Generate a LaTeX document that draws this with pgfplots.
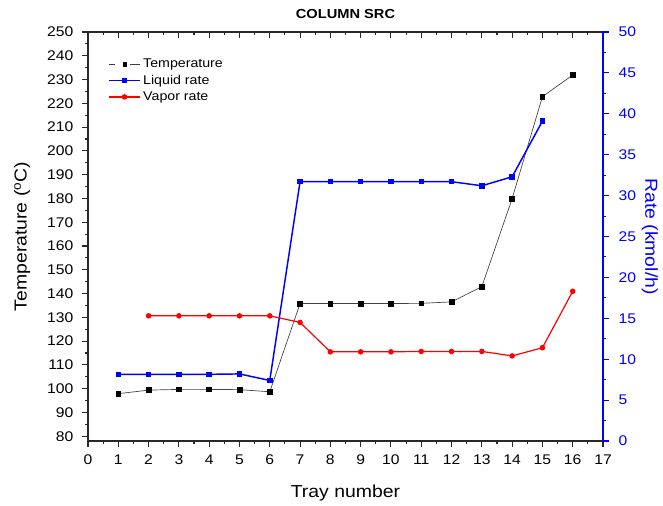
\documentclass[border=0pt]{standalone}
\usepackage{fontspec}
\setmainfont{Liberation Sans}[FakeStretch=1.12]
\usepackage{pgfplots}
\pgfplotsset{compat=1.18}
\definecolor{axgray}{RGB}{40,40,40}
\begin{document}
\begin{tikzpicture}
\pgfplotsset{
  common/.style={
    scale only axis, width=386.25pt, height=306.75pt,
    xmin=0, xmax=17,
    xtick={0,...,17}, minor x tick num=1,
    major tick length=4.5pt, minor tick length=2.6pt,
    every tick/.style={axgray, line width=0.8pt},
    /pgf/number format/assume math mode=true,
    tick label style={font=\fontsize{10.5}{12}\selectfont},
    label style={font=\fontsize{13}{15}\selectfont},
    axis line style={axgray, line width=1.1pt},
  },
  tstyle/.style={color=black!75, line width=0.5pt, mark=square*, mark size=1.8pt, mark options={fill=black, draw=black, solid}},
  lstyle/.style={color=blue, line width=1.1pt, mark=square*, mark size=1.5pt, mark options={fill=blue, draw=blue, solid}},
  vstyle/.style={color=red, line width=0.9pt, mark=*, mark size=1.6pt, mark options={fill=red, draw=red, solid}},
}
\begin{axis}[common, name=main,
  ymin=78, ymax=250, ytick={80,90,...,250}, minor y tick num=1,
  tick align=outside, xtick pos=left, ytick pos=left,
  xticklabel style={yshift=-2.6pt},
  yticklabel style={xshift=-3pt},
  xlabel={Tray number}, ylabel={Temperature (\textsuperscript{o}C)},
  xlabel style={at={(axis description cs:0.5,-0.127)}, anchor=center},
  ylabel style={at={(axis description cs:-0.128,0.5)}, anchor=center},
  title={COLUMN SRC},
  title style={font=\bfseries\fontsize{9.8}{12}\selectfont, at={(axis description cs:0.5,1)}, anchor=center, yshift=7.5pt},
]
\addplot[tstyle] coordinates {
(1,97.9) (2,99.4) (3,99.7) (4,99.7) (5,99.6) (6,98.7) (7,135.8) (8,135.8)
(9,135.8) (10,135.8) (11,135.9) (12,136.5) (13,142.9) (14,179.9) (15,222.8) (16,231.9)};
\end{axis}
\begin{axis}[common,
  ymin=0, ymax=50, ytick={0,5,...,50}, minor y tick num=1,
  axis y line*=right, axis x line*=top,
  xtick align=inside, ytick align=outside,
  xticklabels={},
  y axis line style={blue},
  ytick style={blue},
  yticklabel style={blue, xshift=3.75pt},
  ylabel={Rate (kmol/h)},
  ylabel style={blue, rotate=180, at={(axis description cs:1.091,0.5)}, anchor=center},
  legend style={draw=none, fill=none, at={(axis description cs:0.031,0.947)}, anchor=north west,
    font=\fontsize{9.5}{11}\selectfont, row sep=0.4pt, nodes={inner sep=1.8pt}},
  legend cell align=left,
]
\addlegendimage{tstyle, mark size=1.4pt, legend image code/.code={
  \draw[mark=none] (0cm,0cm) -- (0.16cm,0cm);
  \draw[mark=none] (0.56cm,0cm) -- (0.82cm,0cm);
  \draw plot[only marks] coordinates {(0.42cm,0cm)};}}
\addlegendentry{Temperature}
\addplot[lstyle, legend image code/.code={\draw[mark repeat=2,mark phase=2] plot coordinates {(0cm,0cm)(0.41cm,0cm)(0.82cm,0cm)};}] coordinates {
(1,8.15) (2,8.15) (3,8.15) (4,8.15) (5,8.2) (6,7.4) (7,31.7) (8,31.7)
(9,31.7) (10,31.7) (11,31.7) (12,31.7) (13,31.2) (14,32.3) (15,39.1)};
\addlegendentry{Liquid rate}
\addplot[vstyle, legend image code/.code={\draw[mark repeat=2,mark phase=2] plot coordinates {(0cm,0cm)(0.41cm,0cm)(0.82cm,0cm)};}] coordinates {
(2,15.3) (3,15.3) (4,15.3) (5,15.3) (6,15.3) (7,14.5) (8,10.9) (9,10.9)
(10,10.9) (11,10.95) (12,10.95) (13,10.95) (14,10.4) (15,11.4) (16,18.3)};
\addlegendentry{Vapor rate}
\end{axis}
\path ([xshift=-66pt,yshift=-48.75pt]main.south west) rectangle ([xshift=45pt,yshift=24pt]main.north east);
\end{tikzpicture}
\end{document}
